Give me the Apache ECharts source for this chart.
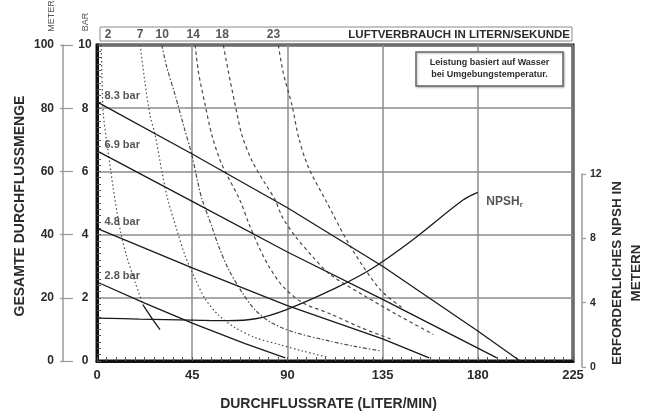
<!DOCTYPE html>
<html><head><meta charset="utf-8">
<script src="https://cdn.jsdelivr.net/npm/echarts@6/dist/echarts.min.js"></script>
<style>html,body{margin:0;padding:0;background:#fff}#c{width:655px;height:416px}</style>
</head><body><div id="c"></div>
<script>
// ---- data (x: flow L/min, y: head in meters; NPSH in meters on right axis) ----
const pressureNames = ['8.3 bar', '6.9 bar', '4.8 bar', '2.8 bar'];
const bar83 = [[0,82],[45,65.5],[90,48.5],[135,30],[180,9.5],[200,0]];
const bar69 = [[0,66.5],[45,50.5],[90,34.5],[135,19.5],[189,1]];
const bar48 = [[0,42],[45,29.5],[90,17.5],[135,7],[157,1]];
const bar28 = [[0,25],[22,18.5],[45,12],[70,5.5],[89,1]];
const npshr = [[0,3.04],[20,2.98],[45,2.92],[62,2.88],[75,3.0],[89,3.54],[112.7,4.9],[130,6.12],[149,7.88],[173,10.38],[180,10.86]];

const airLabels = ['2','7','10','14','18','23'];
const airLabelX = [5.2,20.4,30.8,45.5,59.2,83.4];
const air2 = [[2,100],[2.3,91],[3,78],[5.2,66.5],[7.6,55],[10.9,41.6],[14,33.2],[18,25],[21.8,17.7]];
const air2tail = [[21.8,17.7],[25.9,13.6],[29.8,9.9]];
const air7 = [[20.4,100],[22.7,88],[25.1,77.7],[27.5,71.5],[30.6,60.2],[33.3,51.5],[37.7,41.6],[41.7,33.2],[46.4,26],[51,19.8],[57.3,14.6],[65.4,10.5],[74.8,7.4],[85.7,5.3],[97,3.2],[109,1.2]];
const air10 = [[30.6,100],[33,93],[37,84],[40.9,74.6],[44.8,65.3],[47.5,57],[49.5,51.5],[54.3,42.5],[57.5,36.3],[62.2,29],[68.5,21.8],[74.8,16.1],[82.7,12],[93.8,9],[110,6.3],[122,4.6],[134,3.2]];
const air14 = [[46.4,100],[48,91.2],[51.2,80.8],[54.3,71.5],[59,62.2],[67.5,51],[71.7,43.6],[76.4,36.3],[81.1,30.1],[87.5,23.9],[97,18.5],[110,15],[125,10.5],[139.5,6.8]];
const air18 = [[59.7,100],[62.2,91.2],[65.4,80.8],[68.5,71.5],[73.3,63.3],[79.6,56],[84,51.3],[87.5,45.7],[93.8,39.4],[101.7,33.2],[110,27.5],[126,20.8],[142,14.6],[159,8.4]];
const air23 = [[85.7,100],[88,91.3],[92.2,80.8],[95.4,70.5],[100,61.2],[108,51],[120,36],[134,22.5],[145,16.5]];

const FONT = "'Liberation Sans', Arial, sans-serif";
const TXT = '#2b2b2b';

const chart = echarts.init(document.getElementById('c'), null, {renderer: 'canvas'});

function solid(data) {
  return {type:'line', data, xAxisIndex:0, yAxisIndex:0, showSymbol:false, symbol:'none',
    smooth:false, lineStyle:{color:'#1a1a1a', width:1.3}, z:5, silent:true};
}
function air(data, dash) {
  return {type:'line', data, xAxisIndex:0, yAxisIndex:0, showSymbol:false, symbol:'none',
    smooth:0.3, lineStyle:{color:'#4a4a4a', width:1.2, type:dash}, z:4, silent:true};
}

const pressureSets = [bar83, bar69, bar48, bar28];

const option = {
  animation:false,
  backgroundColor:'#fff',
  textStyle:{fontFamily:FONT},
  grid:[
    {left:97, right:82, top:45, bottom:49, show:true, borderColor:'#111', borderWidth:3, backgroundColor:'#fff'},
    {left:97, right:82, top:174, bottom:49, show:false}
  ],
  xAxis:[
    {type:'value', gridIndex:0, min:0, max:225, interval:45, position:'bottom',
     name:'DURCHFLUSSRATE (LITER/MIN)', nameLocation:'middle', nameGap:36,
     nameTextStyle:{fontFamily:FONT, fontWeight:'bold', fontSize:14, color:TXT, padding:[0,13,0,0]},
     axisLine:{show:true, onZero:false, lineStyle:{color:'#111', width:3}},
     axisTick:{show:true, inside:true, length:4, lineStyle:{color:'#555'}},
     minorTick:{show:true, splitNumber:10, length:4, lineStyle:{color:'#555'}},
     axisLabel:{fontFamily:FONT, fontWeight:'bold', fontSize:13, color:TXT, margin:8},
     splitLine:{show:true, lineStyle:{color:'#8c8c8c', width:1.5}}},
    {type:'value', gridIndex:1, min:0, max:225, show:false}
  ],
  yAxis:[
    {type:'value', gridIndex:0, min:0, max:100, interval:20, position:'left',
     axisLine:{show:true, onZero:false, lineStyle:{color:'#111', width:3}},
     axisTick:{show:true, inside:true, length:4, lineStyle:{color:'#555'}},
     minorTick:{show:true, splitNumber:10, length:4, lineStyle:{color:'#555'}},
     axisLabel:{show:false},
     splitLine:{show:true, lineStyle:{color:'#8c8c8c', width:1.5}}},
    {type:'value', gridIndex:0, min:0, max:100, interval:20, position:'left', offset:34,
     axisLine:{show:true, onZero:false, lineStyle:{color:'#9a9a9a', width:1.5}},
     axisTick:{show:true, length:3, lineStyle:{color:'#9a9a9a', width:1.2}},
     axisLabel:{fontFamily:FONT, fontWeight:'bold', fontSize:12, color:TXT, margin:9},
     splitLine:{show:false}},
    {type:'value', gridIndex:0, min:0, max:10, interval:2, position:'left', offset:34,
     axisLine:{show:false, onZero:false},
     axisTick:{show:true, inside:true, length:10, lineStyle:{color:'#9a9a9a', width:1.2}},
     axisLabel:{inside:true, fontFamily:FONT, fontWeight:'bold', fontSize:12, color:TXT, margin:22, align:'center'},
     splitLine:{show:false}},
    {type:'value', gridIndex:1, min:0, max:12, interval:4, position:'right', offset:9,
     axisLine:{show:true, onZero:false, lineStyle:{color:'#9a9a9a', width:1.5}},
     axisTick:{show:true, length:4, lineStyle:{color:'#9a9a9a', width:1.2}},
     axisLabel:{fontFamily:FONT, fontWeight:'bold', fontSize:10.5, color:TXT, margin:8},
     splitLine:{show:false}}
  ],
  series:[
    solid(bar83), solid(bar69), solid(bar48), solid(bar28),
    air(air2, [1.5,2.5]),
    {type:'line', data:air2tail, xAxisIndex:0, yAxisIndex:0, showSymbol:false, symbol:'none', smooth:0.3,
     lineStyle:{color:'#1a1a1a', width:1.3}, z:5, silent:true},
    air(air7, [1.5,2.5]),
    air(air10, [4,2,1.5,2]),
    air(air14, [3.5,3]),
    air(air18, [3.5,3]),
    air(air23, [3.5,3]),
    {type:'line', data:npshr, xAxisIndex:1, yAxisIndex:3, showSymbol:false, symbol:'none',
     smooth:0.35, lineStyle:{color:'#1a1a1a', width:1.3}, z:5, silent:true},
    // pressure labels at line starts
    {type:'scatter', xAxisIndex:0, yAxisIndex:0, symbolSize:1, itemStyle:{color:'rgba(0,0,0,0)'}, z:6, silent:true,
     data: pressureSets.map((s,i)=>({value:s[0], name:pressureNames[i]})),
     label:{show:true, position:'right', distance:7, offset:[0,-6], formatter:p=>p.name,
            fontFamily:FONT, fontWeight:'bold', fontSize:11, color:TXT}},
    // NPSHr label at end of curve
    {type:'scatter', xAxisIndex:1, yAxisIndex:3, symbolSize:1, itemStyle:{color:'rgba(0,0,0,0)'}, z:6, silent:true,
     data:[{value:npshr[npshr.length-1], name:'NPSH'}],
     label:{show:true, position:'right', distance:8, offset:[0,9],
            formatter:'{a|NPSH}{b|r}',
            rich:{a:{fontFamily:FONT, fontWeight:'bold', fontSize:12, color:TXT},
                  b:{fontFamily:FONT, fontWeight:'bold', fontSize:8, color:TXT, padding:[7,0,0,0]}}}},
    // air consumption labels along the top
    {type:'scatter', xAxisIndex:0, yAxisIndex:0, symbolSize:1, itemStyle:{color:'rgba(0,0,0,0)'}, z:6, silent:true, clip:false,
     data: airLabelX.map((x,i)=>({value:[x,100], name:airLabels[i]})),
     label:{show:true, position:'top', distance:4, formatter:p=>p.name,
            fontFamily:FONT, fontWeight:'bold', fontSize:12, color:TXT}}
  ],
  graphic:[
    {type:'rect', z:1, shape:{x:100, y:27, width:472, height:14}, style:{fill:'#fff', stroke:'#8a8a8a', lineWidth:1}},
    {type:'text', z:2, x:570, y:35, style:{text:'LUFTVERBRAUCH IN LITERN/SEKUNDE', align:'right', verticalAlign:'middle',
      font:"bold 11.5px 'Liberation Sans', Arial, sans-serif", fill:TXT}},
    {type:'rect', z:100, shape:{x:416, y:52, width:147, height:34}, style:{fill:'#fff', stroke:'#666', lineWidth:1.5,
      shadowBlur:2, shadowColor:'rgba(0,0,0,0.25)', shadowOffsetX:1, shadowOffsetY:1}},
    {type:'text', z:101, x:489.5, y:69, style:{text:'Leistung basiert auf Wasser\nbei Umgebungstemperatur.', align:'center',
      verticalAlign:'middle', lineHeight:12, font:"bold 9px 'Liberation Sans', Arial, sans-serif", fill:TXT}},
    {type:'text', x:52, y:16, rotation:Math.PI/2, style:{text:'METER', align:'center', verticalAlign:'middle',
      font:"9px 'Liberation Sans', Arial, sans-serif", fill:'#555'}},
    {type:'text', x:86, y:22, rotation:Math.PI/2, style:{text:'BAR', align:'center', verticalAlign:'middle',
      font:"9px 'Liberation Sans', Arial, sans-serif", fill:'#555'}},
    {type:'text', x:20, y:206, rotation:Math.PI/2, style:{text:'GESAMTE DURCHFLUSSMENGE', align:'center', verticalAlign:'middle',
      font:"bold 14px 'Liberation Sans', Arial, sans-serif", fill:TXT}},
    {type:'text', x:627, y:273, rotation:Math.PI/2, style:{text:'ERFORDERLICHES NPSH IN\nMETERN', align:'center', verticalAlign:'middle',
      lineHeight:19, font:"bold 13.5px 'Liberation Sans', Arial, sans-serif", fill:TXT}}
  ]
};
chart.setOption(option);
</script>
</body></html>
